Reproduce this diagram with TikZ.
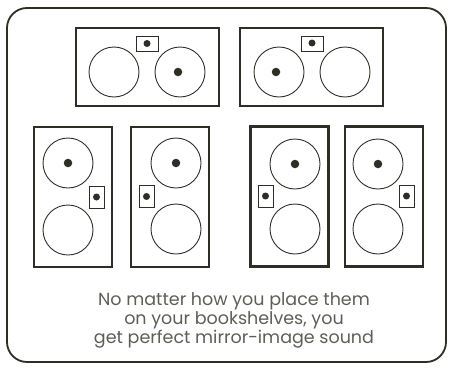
\documentclass[tikz,border=0pt]{standalone}
\usepackage{fontspec}
\setmainfont{Poppins}
\definecolor{ink}{HTML}{2E2D26}
\definecolor{txt}{HTML}{5E5E57}
\begin{document}
\begin{tikzpicture}[x=1pt,y=-1pt,
  frame/.style={draw=ink,line width=1.8pt,rounded corners=20pt},
  cab/.style={draw=ink,line width=2.2pt,rectangle,inner sep=0pt},
  hcab/.style={cab,minimum width=143pt,minimum height=78pt},
  vcab/.style={cab,minimum width=78pt,minimum height=140pt},
  woofer/.style={draw=ink,line width=0.9pt,circle,minimum size=50pt,inner sep=0pt},
  hport/.style={draw=ink,line width=0.9pt,rectangle,minimum width=22pt,minimum height=15pt,inner sep=0pt},
  vport/.style={draw=ink,line width=0.9pt,rectangle,minimum width=15pt,minimum height=22pt,inner sep=0pt},
  bigdot/.style={fill=ink,circle,minimum size=8.5pt,inner sep=0pt},
  smalldot/.style={fill=ink,circle,minimum size=7pt,inner sep=0pt},
  caption/.style={text=txt,font=\fontsize{17.5}{20}\selectfont,anchor=base,inner sep=0pt}]
\useasboundingbox (0,0) rectangle (452,367);
\draw[frame] (7,8) rectangle (446,362);
% top left horizontal speaker
\node[hcab] (A) at (147.5,67) {};
\node[woofer] (A1) at (114,72) {};
\node[woofer] (A2) at (180,72) {};
\node[bigdot] (A2d) at (178,72) {};
\node[hport] (At) at (147,43.5) {};
\node[smalldot] (Atd) at (147,43.5) {};
% top right horizontal speaker
\node[hcab] (B) at (311.5,67) {};
\node[woofer] (B1) at (279,72) {};
\node[bigdot] (B1d) at (276,72) {};
\node[woofer] (B2) at (345,72) {};
\node[hport] (Bt) at (312,43.5) {};
\node[smalldot] (Btd) at (312,43) {};
% vertical speaker 1
\node[vcab] (C) at (73,197) {};
\node[woofer] (C1) at (68,163) {};
\node[bigdot] (C1d) at (68,163) {};
\node[woofer] (C2) at (68,230) {};
\node[vport] (Ct) at (96.5,197) {};
\node[smalldot] (Ctd) at (96.5,197) {};
% vertical speaker 2
\node[vcab] (D) at (170,197) {};
\node[woofer] (D1) at (176,163) {};
\node[bigdot] (D1d) at (176,163) {};
\node[woofer] (D2) at (176,229) {};
\node[vport] (Dt) at (146.5,196.5) {};
\node[smalldot] (Dtd) at (146.5,196.5) {};
% vertical speaker 3
\node[vcab] (E) at (289.5,196.5) {};
\node[woofer] (E1) at (295,164) {};
\node[bigdot] (E1d) at (295,164) {};
\node[woofer] (E2) at (295,229) {};
\node[vport] (Et) at (265.5,196) {};
\node[smalldot] (Etd) at (265.5,196) {};
% vertical speaker 4
\node[vcab] (F) at (384,196.5) {};
\node[woofer] (F1) at (378,164) {};
\node[bigdot] (F1d) at (378,164) {};
\node[woofer] (F2) at (378,229) {};
\node[vport] (Ft) at (406.5,196) {};
\node[smalldot] (Ftd) at (406.5,196) {};
% caption
\node[caption] (T1) at (234,305) {No matter how you place them};
\node[caption] (T2) at (234,324) {on your bookshelves, you};
\node[caption] (T3) at (234,343) {get perfect mirror-image sound};
\end{tikzpicture}
\end{document}
